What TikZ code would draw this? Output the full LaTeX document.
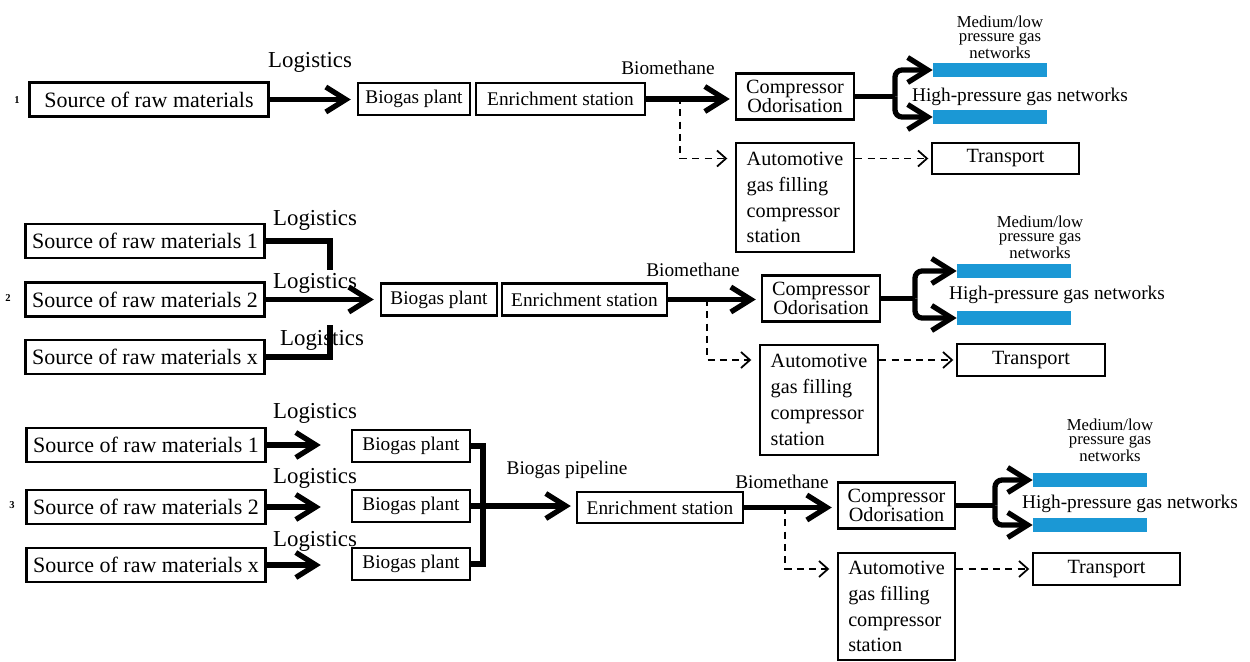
\documentclass[tikz,border=0pt]{standalone}
\usepackage{fontspec}
\setmainfont{Liberation Serif}
\newfontfamily\timesfont{Liberation Serif}
\usepackage{xcolor}
\usetikzlibrary{arrows.meta}
\definecolor{netblue}{HTML}{1B98D5}

\begin{document}
\begin{tikzpicture}[x = 0.02cm, y = -0.02cm,
  box/.style = {draw, line width = 1.4pt, inner sep = 1pt, align = center},
  srcbox/.style = {box, minimum width = 4.78cm, minimum height = 0.68cm, font = \timesfont\fontsize{12.5}{14}\selectfont},
  plantbox/.style = {box, minimum height = 0.64cm, font = \timesfont\fontsize{11}{13}\selectfont},
  compbox/.style = {box, minimum width = 2.36cm, minimum height = 0.92cm, font = \timesfont\fontsize{11.5}{11}\selectfont},
  autobox/.style = {box, minimum width = 2.36cm, minimum height = 2.18cm, align = left, font = \timesfont\fontsize{11.5}{14.7}\selectfont},
  transbox/.style = {box, minimum width = 2.94cm, minimum height = 0.63cm, font = \timesfont\fontsize{11.5}{13}\selectfont},
  netbar/.style = {fill = netblue, minimum width = 2.28cm, minimum height = 0.28cm, inner sep = 0},
  logi/.style = {font = \timesfont\fontsize{13}{15}\selectfont},
  lbl/.style = {font = \timesfont\fontsize{11}{13}\selectfont},
  mednet/.style = {align = center, font = \timesfont\fontsize{9.5}{8}\selectfont},
  num/.style = {font = \timesfont\bfseries\fontsize{6}{7}\selectfont},
  thickline/.style = {line width = 3pt},
  thickarrow/.style = {line width = 3pt, -{Straight Barb[length = 4mm, width = 5mm, line width = 3pt]}},
  dasharrow/.style = {dashed, dash pattern = on 4pt off 3pt, line width = 0.9pt, -{Straight Barb[length = 1.8mm, width = 3.2mm, line width = 1pt]}}]
  \useasboundingbox (0, 0) rectangle (1250, 662);

  % scheme 1
  \node[num] (n1) at (17, 100) {1};
  \node[srcbox] (src1) at (149, 99.5) {Source of raw materials};
  \node[plantbox, minimum width = 2.24cm] (bio1) at (414, 99) {Biogas plant};
  \node[plantbox, minimum width = 3.38cm] (enr1) at (560.5, 99) {Enrichment station};
  \node[compbox] (comp1) at (795, 96.5) {Compressor\\Odorisation};
  \node[autobox] (auto1) at (795, 197.5) {Automotive\\gas filling\\compressor\\station};
  \node[transbox] (trans1) at (1005.5, 158.5) {Transport};
  \node[netbar] (bar1a) at (990, 70) {};
  \node[netbar] (bar1b) at (990, 117) {};
  \node[mednet] (med1) at (1000, 37) {Medium/low\\pressure gas\\networks};
  \node[lbl] (high1) at (1020, 97) {High-pressure gas networks};
  \node[logi] (log1) at (310, 62) {Logistics};
  \node[lbl] (bm1) at (668, 68) {Biomethane};
  \coordinate (sp1) at (895, 96.5);
  \coordinate (d1) at (680, 97);
  \draw[thickarrow, shorten > = 0.12cm] (src1) -- (src1 -| bio1.west);
  \draw[thickarrow, shorten > = 0.1cm] (enr1.east) -- (enr1.east -| comp1.west);
  \draw[thickline] (comp1.east) -- (sp1);
  \draw[thickarrow, rounded corners = 4pt] (sp1) |- (bar1a.west);
  \draw[thickarrow, rounded corners = 4pt] (sp1) |- (bar1b.west);
  \draw[dasharrow, shorten > = 0.15cm] (d1) |- (auto1.west |- trans1);
  \draw[dasharrow, shorten > = 0.05cm] (auto1.east |- trans1) -- (trans1.west);

  % scheme 2
  \node[num] (n2) at (8, 298) {2};
  \node[srcbox] (src21) at (145, 241) {Source of raw materials 1};
  \node[srcbox] (src22) at (145, 299.5) {Source of raw materials 2};
  \node[srcbox] (src2x) at (145, 357) {Source of raw materials x};
  \node[plantbox, minimum width = 2.32cm] (bio2) at (439, 299.5) {Biogas plant};
  \node[plantbox, minimum width = 3.3cm] (enr2) at (584.5, 299.5) {Enrichment station};
  \node[compbox] (comp2) at (821, 298.5) {Compressor\\Odorisation};
  \node[autobox, minimum height = 2.2cm] (auto2) at (819, 400) {Automotive\\gas filling\\compressor\\station};
  \node[transbox, minimum width = 2.96cm] (trans2) at (1031, 360) {Transport};
  \node[netbar] (bar2a) at (1014, 271) {};
  \node[netbar] (bar2b) at (1014, 318) {};
  \node[mednet] (med2) at (1040, 237) {Medium/low\\pressure gas\\networks};
  \node[lbl] (high2) at (1057, 295) {High-pressure gas networks};
  \node[logi] (log21) at (315, 220) {Logistics};
  \node[logi] (log22) at (315, 283) {Logistics};
  \node[logi] (log2x) at (322, 340) {Logistics};
  \node[lbl] (bm2) at (693, 270) {Biomethane};
  \coordinate (j21) at (330, 270);
  \coordinate (j2x) at (330, 325);
  \coordinate (sp2) at (915, 298.5);
  \coordinate (d2) at (707, 299);
  \draw[thickline] (src21.east) -| (j21);
  \draw[thickline] (src2x.east) -| (j2x);
  \draw[thickarrow, shorten > = 0.12cm] (src22) -- (bio2);
  \draw[thickarrow, shorten > = 0.1cm] (enr2.east) -- (enr2.east -| comp2.west);
  \draw[thickline] (comp2.east) -- (sp2);
  \draw[thickarrow, rounded corners = 4pt] (sp2) |- (bar2a.west);
  \draw[thickarrow, rounded corners = 4pt] (sp2) |- (bar2b.west);
  \draw[dasharrow, shorten > = 0.15cm] (d2) |- (auto2.west |- trans2);
  \draw[dasharrow, shorten > = 0.05cm] (auto2.east |- trans2) -- (trans2.west);

  % scheme 3
  \node[num] (n3) at (12, 505) {3};
  \node[srcbox] (src31) at (146, 445) {Source of raw materials 1};
  \node[srcbox] (src32) at (146, 507) {Source of raw materials 2};
  \node[srcbox] (src3x) at (146, 565) {Source of raw materials x};
  \node[plantbox, minimum width = 2.36cm] (bio31) at (411, 446) {Biogas plant};
  \node[plantbox, minimum width = 2.36cm] (bio32) at (411, 506) {Biogas plant};
  \node[plantbox, minimum width = 2.36cm] (bio3x) at (411, 564) {Biogas plant};
  \node[plantbox, minimum width = 3.32cm, minimum height = 0.62cm] (enr3) at (660, 507.5) {Enrichment station};
  \node[compbox, minimum width = 2.34cm] (comp3) at (896.5, 505.5) {Compressor\\Odorisation};
  \node[autobox, minimum width = 2.34cm, minimum height = 2.14cm] (auto3) at (896.5, 606.5) {Automotive\\gas filling\\compressor\\station};
  \node[transbox] (trans3) at (1106.5, 569) {Transport};
  \node[netbar] (bar3a) at (1090, 480) {};
  \node[netbar] (bar3b) at (1090, 525) {};
  \node[mednet] (med3) at (1110, 440) {Medium/low\\pressure gas\\networks};
  \node[lbl] (high3) at (1130, 504) {High-pressure gas networks};
  \node[logi] (log31) at (315, 413) {Logistics};
  \node[logi] (log32) at (315, 478) {Logistics};
  \node[logi] (log3x) at (315, 541) {Logistics};
  \node[lbl] (pipe3) at (567, 470) {Biogas pipeline};
  \node[lbl] (bm3) at (782, 482) {Biomethane};
  \coordinate (j3) at (483, 506);
  \coordinate (sp3) at (995, 505.5);
  \coordinate (d3) at (785, 507);
  \draw[thickarrow, shorten > = 0.6cm] (src31) -- (src31 -| bio31.west);
  \draw[thickarrow, shorten > = 0.6cm] (src32) -- (src32 -| bio32.west);
  \draw[thickarrow, shorten > = 0.6cm] (src3x) -- (src3x -| bio3x.west);
  \draw[thickline] (bio31.east) -| (j3);
  \draw[thickline] (bio3x.east) -| (j3);
  \draw[thickarrow, shorten > = 0.1cm] (bio32.east) -- (bio32.east -| enr3.west);
  \draw[thickarrow, shorten > = 0.1cm] (enr3.east) -- (enr3.east -| comp3.west);
  \draw[thickline] (comp3.east) -- (sp3);
  \draw[thickarrow, rounded corners = 4pt] (sp3) |- (bar3a.west);
  \draw[thickarrow, rounded corners = 4pt] (sp3) |- (bar3b.west);
  \draw[dasharrow, shorten > = 0.15cm] (d3) |- (auto3.west |- trans3);
  \draw[dasharrow, shorten > = 0.05cm] (auto3.east |- trans3) -- (trans3.west);
\end{tikzpicture}
\end{document}
